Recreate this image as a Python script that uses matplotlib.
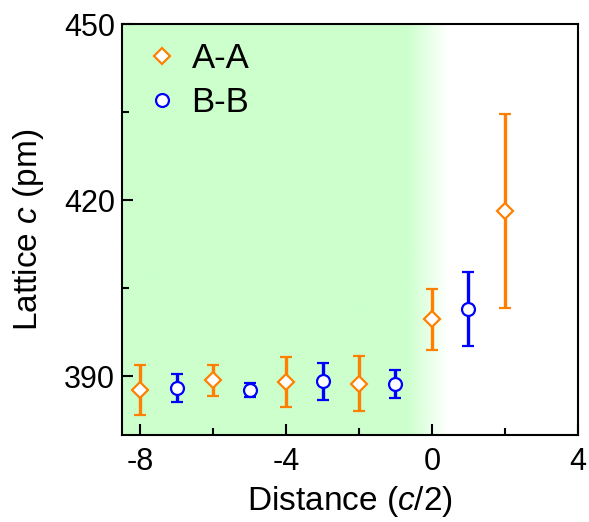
import matplotlib.pyplot as plt
import numpy as np
from matplotlib.lines import Line2D

plt.rcParams['font.family'] = ['Liberation Sans', 'DejaVu Sans']
plt.rcParams['mathtext.fontset'] = 'custom'
plt.rcParams['mathtext.it'] = 'Liberation Sans:italic'
plt.rcParams['mathtext.rm'] = 'Liberation Sans'
plt.rcParams['axes.unicode_minus'] = False

# A-A series
aa_x = [-8, -6, -4, -2, 0, 2]
aa_y = [387.6, 389.3, 389.0, 388.7, 399.7, 418.1]
aa_err = [4.3, 2.6, 4.2, 4.7, 5.2, 16.5]

# B-B series
bb_x = [-7, -5, -3, -1, 1]
bb_y = [388.0, 387.6, 389.1, 388.7, 401.5]
bb_err = [2.4, 1.2, 3.2, 2.4, 6.3]

orange = "#FF8000"
blue = "#0000FF"

fig = plt.figure(figsize=(5.89, 5.22), dpi=100)
ax = fig.add_axes([0.207, 0.167, 0.774, 0.787])

# Green shaded region fading out just after x = 0
xs = np.linspace(-8.5, 4, 600)
alpha = np.clip((0.45 - xs) / (0.45 + 0.7), 0, 1)
img = np.zeros((1, len(xs), 4))
img[..., 0] = 0.8
img[..., 1] = 1.0
img[..., 2] = 0.8
img[..., 3] = alpha
ax.imshow(img, extent=[-8.5, 4, 380, 450], aspect='auto', zorder=0, interpolation='bilinear')

ax.errorbar(aa_x, aa_y, yerr=aa_err, fmt='D', color=orange, ms=8, mfc='white', mec=orange,
            mew=1.6, elinewidth=2.4, capsize=4, capthick=2.4, zorder=3)
ax.errorbar(bb_x, bb_y, yerr=bb_err, fmt='o', color=blue, ms=9.3, mfc='white', mec=blue,
            mew=1.6, elinewidth=2.4, capsize=4, capthick=2.4, zorder=3)

ax.set_xlim(-8.5, 4)
ax.set_ylim(380, 450)
ax.set_xticks([-8, -4, 0, 4])
ax.set_xticks([-6, -2, 2], minor=True)
ax.set_yticks([390, 420, 450])
ax.set_yticks([405, 435], minor=True)
ax.tick_params(which='both', direction='in', width=1.5, labelsize=22, top=False, right=False)
ax.tick_params(which='major', length=8)
ax.tick_params(which='minor', length=5)
ax.tick_params(axis='x', pad=9)
ax.tick_params(axis='y', pad=5)
for s in ax.spines.values():
    s.set_linewidth(1.5)

ax.set_xlabel(r'Distance ($\mathit{c}$/2)', fontsize=24, labelpad=5)
ax.set_ylabel(r'Lattice $\mathit{c}$ (pm)', fontsize=24, labelpad=13)

handles = [
    Line2D([], [], ls='none', marker='D', ms=8, mfc='white', mec=orange, mew=1.6),
    Line2D([], [], ls='none', marker='o', ms=9.3, mfc='white', mec=blue, mew=1.6),
]
ax.legend(handles, ['A-A', 'B-B'], loc='upper left', frameon=False, fontsize=25,
          handlelength=1.0, handletextpad=0.35, borderpad=0, borderaxespad=0,
          labelspacing=0.3, bbox_to_anchor=(0.05, 0.955))

fig.savefig('out.png', dpi=100)
